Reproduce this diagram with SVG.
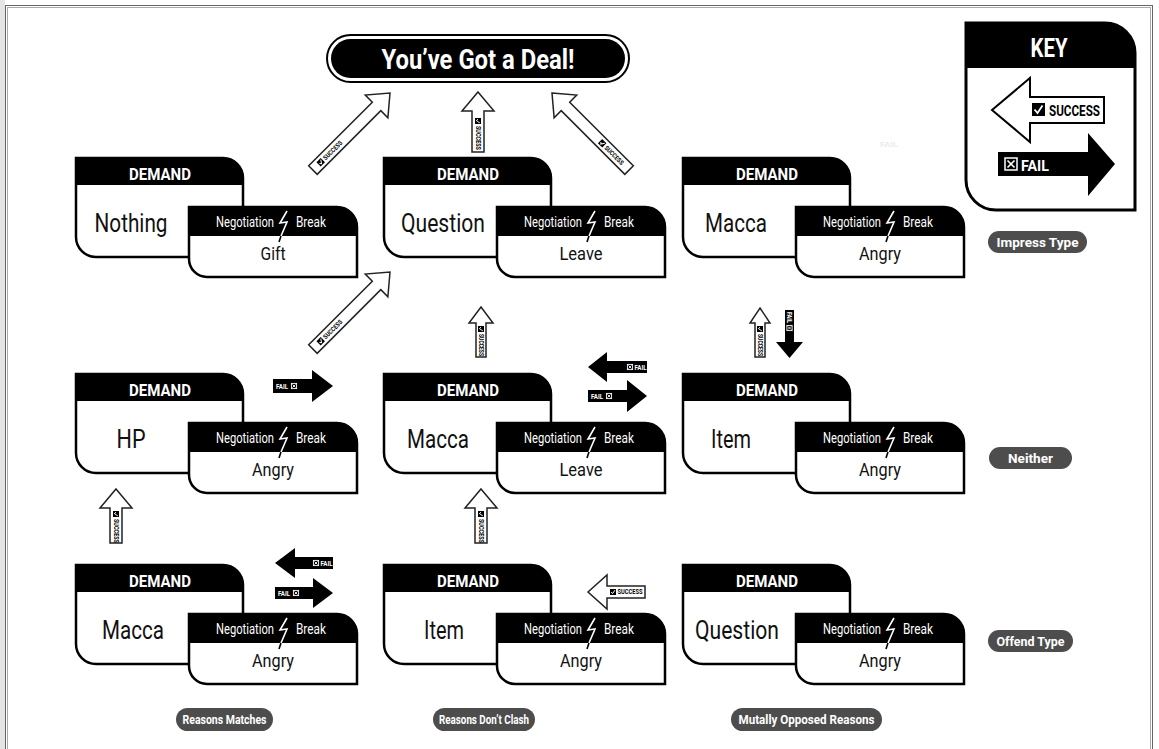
<svg xmlns="http://www.w3.org/2000/svg" width="1159" height="749" viewBox="0 0 1159 749">
<defs>
<style>
text{font-family:Roboto,"Liberation Sans",sans-serif}
.card{fill:#fff;stroke:#000;stroke-width:2.5}
.hdr{fill:#000}
.dem{font-size:17px;font-weight:bold;fill:#fff;text-anchor:middle}
.main{font-size:25px;fill:#111;text-anchor:middle}
.neg{font-size:14px;fill:#fff}
.sub{font-size:18px;fill:#111;text-anchor:middle}
.bolt{fill:none;stroke:#fff;stroke-width:1.6;stroke-linejoin:miter}
.boltb{fill:none;stroke:#000;stroke-width:1.6}
.sa{fill:#fff;stroke:#222;stroke-width:1.5;stroke-linejoin:miter}
.fa{fill:#000}
.tiny{font-size:6.5px;font-weight:bold;fill:#000}
.tinyw{font-size:6.5px;font-weight:bold;fill:#fff}
.pill{fill:#4d4d4d}
.pt{font-size:12.5px;font-weight:bold;fill:#fff;text-anchor:middle}
</style>
<g id="cb"><rect x="0" y="-3" width="6" height="6" fill="#000"/><polyline points="1.2,0 2.6,1.6 4.9,-1.8" fill="none" stroke="#fff" stroke-width="1"/></g>
<g id="xb"><rect x="0.4" y="-2.6" width="5.2" height="5.2" fill="none" stroke="#fff" stroke-width="0.9"/><path d="M1.5,-1.5 L4.5,1.5 M4.5,-1.5 L1.5,1.5" stroke="#fff" stroke-width="0.9"/></g>
<g id="nodebase">
<path class="card" d="M0,0 H147 A20,20 0 0 1 167,20 V99 H20 A20,20 0 0 1 0,79 Z"/>
<path class="hdr" d="M0,0 H147 A20,20 0 0 1 167,20 V27 H0 Z"/>
<path class="card" d="M113,49 H261 A20,20 0 0 1 281,69 V119 H131 A18,18 0 0 1 113,101 Z"/>
<path class="hdr" d="M113,49 H261 A20,20 0 0 1 281,69 V78 H113 Z"/>
<polyline class="bolt" points="211,53 204,65 211,64 205,78"/>
<polyline class="boltb" points="205,78 203,84"/>
<text class="dem" x="84" y="22" textLength="62" lengthAdjust="spacingAndGlyphs">DEMAND</text>
<text class="neg" x="198" y="69" text-anchor="end" textLength="58" lengthAdjust="spacingAndGlyphs">Negotiation</text>
<text class="neg" x="220" y="69" textLength="30" lengthAdjust="spacingAndGlyphs">Break</text>
</g>
</defs>
<rect x="0" y="0" width="1159" height="749" fill="#fff"/>
<rect x="0" y="0" width="5" height="749" fill="#e4e4e4"/>
<rect x="5.5" y="5.5" width="1147" height="760" fill="none" stroke="#666" stroke-width="1"/>
<rect x="7.5" y="7.5" width="1143" height="760" fill="none" stroke="#aaa" stroke-width="1"/>

<g id="title">
<rect x="327" y="35" width="302" height="47" rx="23.5" fill="#fff" stroke="#000" stroke-width="2"/>
<rect x="331" y="39" width="294" height="39" rx="19.5" fill="#000"/>
<text x="478" y="69" font-size="28" font-weight="bold" fill="#fff" text-anchor="middle" textLength="193" lengthAdjust="spacingAndGlyphs">You’ve Got a Deal!</text>
</g>

<g id="node-r1c1" transform="translate(76,158)"><use href="#nodebase"/><text class="main" x="55" y="74" textLength="73" lengthAdjust="spacingAndGlyphs">Nothing</text><text class="sub" x="197" y="102" textLength="25" lengthAdjust="spacingAndGlyphs">Gift</text></g>
<g id="node-r1c2" transform="translate(384,158)"><use href="#nodebase"/><text class="main" x="59" y="74" textLength="84" lengthAdjust="spacingAndGlyphs">Question</text><text class="sub" x="197" y="102" textLength="43" lengthAdjust="spacingAndGlyphs">Leave</text></g>
<g id="node-r1c3" transform="translate(683,158)"><use href="#nodebase"/><text class="main" x="53" y="74" textLength="62" lengthAdjust="spacingAndGlyphs">Macca</text><text class="sub" x="197" y="102" textLength="42" lengthAdjust="spacingAndGlyphs">Angry</text></g>
<g id="node-r2c1" transform="translate(76,374)"><use href="#nodebase"/><text class="main" x="55" y="74" textLength="29" lengthAdjust="spacingAndGlyphs">HP</text><text class="sub" x="197" y="102" textLength="42" lengthAdjust="spacingAndGlyphs">Angry</text></g>
<g id="node-r2c2" transform="translate(384,374)"><use href="#nodebase"/><text class="main" x="54" y="74" textLength="62" lengthAdjust="spacingAndGlyphs">Macca</text><text class="sub" x="197" y="102" textLength="43" lengthAdjust="spacingAndGlyphs">Leave</text></g>
<g id="node-r2c3" transform="translate(683,374)"><use href="#nodebase"/><text class="main" x="48" y="74" textLength="40" lengthAdjust="spacingAndGlyphs">Item</text><text class="sub" x="197" y="102" textLength="42" lengthAdjust="spacingAndGlyphs">Angry</text></g>
<g id="node-r3c1" transform="translate(76,565)"><use href="#nodebase"/><text class="main" x="57" y="74" textLength="62" lengthAdjust="spacingAndGlyphs">Macca</text><text class="sub" x="197" y="102" textLength="42" lengthAdjust="spacingAndGlyphs">Angry</text></g>
<g id="node-r3c2" transform="translate(384,565)"><use href="#nodebase"/><text class="main" x="60" y="74" textLength="40" lengthAdjust="spacingAndGlyphs">Item</text><text class="sub" x="197" y="102" textLength="42" lengthAdjust="spacingAndGlyphs">Angry</text></g>
<g id="node-r3c3" transform="translate(683,565)"><use href="#nodebase"/><text class="main" x="54" y="74" textLength="84" lengthAdjust="spacingAndGlyphs">Question</text><text class="sub" x="197" y="102" textLength="42" lengthAdjust="spacingAndGlyphs">Angry</text></g>

<g id="key">
<path d="M966,23 H1105 A30,30 0 0 1 1135,53 V210 H996 A30,30 0 0 1 966,180 Z" fill="#fff" stroke="#000" stroke-width="3"/>
<path d="M966,23 H1105 A30,30 0 0 1 1135,53 V68 H966 Z" fill="#000"/>
<text x="1049" y="57" font-size="25" font-weight="bold" fill="#fff" text-anchor="middle" textLength="37" lengthAdjust="spacingAndGlyphs">KEY</text>
<path d="M992,110 L1030,78 V97 H1104 V123 H1030 V142 Z" fill="#fff" stroke="#000" stroke-width="2"/>
<rect x="1032" y="103" width="13" height="13" fill="#000"/>
<polyline points="1034.5,109.5 1037.5,113 1042.5,105.5" fill="none" stroke="#fff" stroke-width="1.8"/>
<text x="1049" y="116" font-size="15" font-weight="bold" fill="#000" textLength="51" lengthAdjust="spacingAndGlyphs">SUCCESS</text>
<path d="M998,152 H1088 V133 L1115,164 L1088,196 V176 H998 Z" fill="#000"/>
<rect x="1005" y="158" width="12" height="12" fill="none" stroke="#fff" stroke-width="1.5"/>
<path d="M1007.5,160.5 L1014.5,167.5 M1014.5,160.5 L1007.5,167.5" stroke="#fff" stroke-width="1.6"/>
<text x="1021" y="170.5" font-size="15" font-weight="bold" fill="#fff" textLength="28" lengthAdjust="spacingAndGlyphs">FAIL</text>
</g>

<g id="labels">
<rect class="pill" x="988" y="231" width="99" height="22" rx="11"/><text class="pt" x="1037.5" y="246.5" textLength="82" lengthAdjust="spacingAndGlyphs">Impress Type</text>
<rect class="pill" x="989" y="447" width="83" height="22" rx="11"/><text class="pt" x="1030.5" y="462.5" textLength="45" lengthAdjust="spacingAndGlyphs">Neither</text>
<rect class="pill" x="988" y="630" width="85" height="22" rx="11"/><text class="pt" x="1030.5" y="645.5" textLength="68" lengthAdjust="spacingAndGlyphs">Offend Type</text>
<rect class="pill" x="176" y="708" width="97" height="23" rx="11.5"/><text class="pt" x="224.5" y="724" textLength="84" lengthAdjust="spacingAndGlyphs">Reasons Matches</text>
<rect class="pill" x="433" y="708" width="102" height="23" rx="11.5"/><text class="pt" x="484" y="724" textLength="90" lengthAdjust="spacingAndGlyphs">Reasons Don’t Clash</text>
<rect class="pill" x="731" y="708" width="151" height="23" rx="11.5"/><text class="pt" x="806.5" y="724" textLength="136" lengthAdjust="spacingAndGlyphs">Mutally Opposed Reasons</text>
<text x="880" y="147" font-size="8" font-weight="bold" fill="#ececec" textLength="18" lengthAdjust="spacingAndGlyphs">FAIL</text>
</g>

<g id="connectors">
<g transform="translate(390,93) rotate(45)">
<path class="sa" d="M0,0 L16,19 L6,19 L6,109 L-6,109 L-6,19 L-16,19 Z"/>
<g transform="translate(0,101) rotate(-90)"><use href="#cb"/><text class="tiny" x="8" y="2.3" textLength="24" lengthAdjust="spacingAndGlyphs">SUCCESS</text></g>
</g>
<g transform="translate(478,92)">
<path class="sa" d="M0,0 L16,19 L6,19 L6,60 L-6,60 L-6,19 L-16,19 Z"/>
<g transform="translate(0,26) rotate(90)"><use href="#cb"/><text class="tiny" x="8" y="2.3" textLength="24" lengthAdjust="spacingAndGlyphs">SUCCESS</text></g>
</g>
<g transform="translate(552,93) rotate(-45)">
<path class="sa" d="M0,0 L16,19 L6,19 L6,109 L-6,109 L-6,19 L-16,19 Z"/>
<g transform="translate(0,68) rotate(90)"><use href="#cb"/><text class="tiny" x="8" y="2.3" textLength="24" lengthAdjust="spacingAndGlyphs">SUCCESS</text></g>
</g>
<g transform="translate(390,272) rotate(45)">
<path class="sa" d="M0,0 L16,19 L6,19 L6,109 L-6,109 L-6,19 L-16,19 Z"/>
<g transform="translate(0,101) rotate(-90)"><use href="#cb"/><text class="tiny" x="8" y="2.3" textLength="24" lengthAdjust="spacingAndGlyphs">SUCCESS</text></g>
</g>
<g transform="translate(481,307)">
<path class="sa" d="M0,0 L12,16 L5,16 L5,50 L-5,50 L-5,16 L-12,16 Z"/>
<g transform="translate(0,19) rotate(90)"><use href="#cb"/><text class="tiny" x="8" y="2.3" font-size="6" textLength="22" lengthAdjust="spacingAndGlyphs">SUCCESS</text></g>
</g>
<g transform="translate(760,308)">
<path class="sa" d="M0,0 L10,15 L5,15 L5,49 L-5,49 L-5,15 L-10,15 Z"/>
<g transform="translate(0,18) rotate(90)"><use href="#cb"/><text class="tiny" x="8" y="2.3" font-size="6" textLength="22" lengthAdjust="spacingAndGlyphs">SUCCESS</text></g>
</g>
<path class="fa" d="M785,310 H794 V342 H803 L789.5,358 L776,342 H785 Z"/>
<g transform="translate(789.5,312) rotate(90)"><text class="tinyw" x="0" y="2.2" font-size="5.5" textLength="11" lengthAdjust="spacingAndGlyphs">FAIL</text><use href="#xb" transform="translate(13,0)"/></g>
<g transform="translate(116,489)">
<path class="sa" d="M0,0 L16,19 L6,19 L6,54 L-6,54 L-6,19 L-16,19 Z"/>
<g transform="translate(0,22) rotate(90)"><use href="#cb"/><text class="tiny" x="8" y="2.3" textLength="24" lengthAdjust="spacingAndGlyphs">SUCCESS</text></g>
</g>
<g transform="translate(481,489)">
<path class="sa" d="M0,0 L16,19 L6,19 L6,54 L-6,54 L-6,19 L-16,19 Z"/>
<g transform="translate(0,22) rotate(90)"><use href="#cb"/><text class="tiny" x="8" y="2.3" textLength="24" lengthAdjust="spacingAndGlyphs">SUCCESS</text></g>
</g>
<path class="fa" d="M273,379 H312 V370 L333,386 L312,402 V393 H273 Z"/>
<text class="tinyw" x="276" y="388.5" textLength="12" lengthAdjust="spacingAndGlyphs">FAIL</text><use href="#xb" transform="translate(291,386)"/>
<path class="fa" d="M588,367 L607,352 V361 H647 V373 H607 V382 Z"/>
<use href="#xb" transform="translate(627,367)"/><text class="tinyw" x="634.5" y="369.5" textLength="12" lengthAdjust="spacingAndGlyphs">FAIL</text>
<path class="fa" d="M588,390 H627 V380 L647,396 L627,412 V402 H588 Z"/>
<text class="tinyw" x="591" y="398.5" textLength="12" lengthAdjust="spacingAndGlyphs">FAIL</text><use href="#xb" transform="translate(606,396)"/>
<path class="fa" d="M275,563 L295,548 V557 H333 V569 H295 V578 Z"/>
<use href="#xb" transform="translate(313,563)"/><text class="tinyw" x="320.5" y="565.5" textLength="12" lengthAdjust="spacingAndGlyphs">FAIL</text>
<path class="fa" d="M275,587 H313 V578 L333,593 L313,608 V599 H275 Z"/>
<text class="tinyw" x="278" y="595.5" textLength="12" lengthAdjust="spacingAndGlyphs">FAIL</text><use href="#xb" transform="translate(293,593)"/>
<path class="sa" d="M588,592 L607,575 V586 H645 V598 H607 V609 Z"/>
<use href="#cb" transform="translate(610,592)"/><text class="tiny" x="617.5" y="594.3" font-size="6" textLength="25" lengthAdjust="spacingAndGlyphs">SUCCESS</text>
</g>
</svg>
